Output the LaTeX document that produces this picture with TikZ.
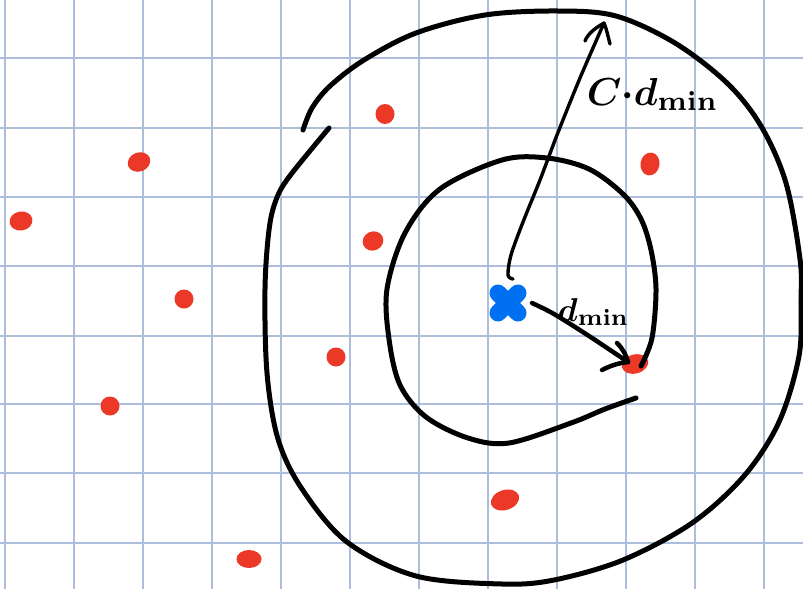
\documentclass[tikz,border=0pt]{standalone}
\usetikzlibrary{shapes.geometric,calc}
\definecolor{gridblue}{RGB}{172,190,220}
\definecolor{dotred}{RGB}{236,56,38}
\definecolor{qblue}{RGB}{0,112,243}
\tikzset{
  reddot/.style={ellipse,fill=dotred,inner sep=0pt,draw=none},
  pen/.style={line width=5pt,line cap=round,line join=round,black},
  thinpen/.style={line width=3.4pt,line cap=round,line join=round,black},
  hand/.style={inner sep=0pt,anchor=base west,font=\boldmath}
}
\begin{document}
\begin{tikzpicture}[x=1pt,y=-1pt]
\useasboundingbox (0,0) rectangle (803,589);
\fill[white] (0,0) rectangle (803,589);
% grid
\foreach \gx in {5,74,143,212,281,350,419,488,557,626,695,764}
  \draw[gridblue,line width=1.6pt] (\gx,0) -- (\gx,589);
\foreach \gy in {58,128,197,266,336,404,473,543}
  \draw[gridblue,line width=1.6pt] (0,\gy) -- (803,\gy);
% red points
\node[reddot,minimum width=23pt,minimum height=19pt,rotate=20] (d1) at (139,162) {};
\node[reddot,minimum width=23pt,minimum height=19pt,rotate=10] (d2) at (21,221) {};
\node[reddot,minimum width=19pt,minimum height=19pt] (d3) at (184,299) {};
\node[reddot,minimum width=19pt,minimum height=19pt] (d4) at (110,406) {};
\node[reddot,minimum width=25pt,minimum height=18pt] (d5) at (249,559) {};
\node[reddot,minimum width=19pt,minimum height=20pt] (d6) at (385,114) {};
\node[reddot,minimum width=21pt,minimum height=19pt,rotate=25] (d7) at (373,241) {};
\node[reddot,minimum width=19pt,minimum height=19pt] (d8) at (336,357) {};
\node[reddot,minimum width=19pt,minimum height=23pt,rotate=-10] (d9) at (650,164) {};
\node[reddot,minimum width=27pt,minimum height=19pt,rotate=15] (d10) at (635,364) {};
\node[reddot,minimum width=29pt,minimum height=20pt,rotate=18] (d11) at (505,500) {};
% query point (blue cross)
\coordinate (q) at (508,303);
\draw[qblue,line width=17pt,line cap=round] ($(q)+(-10,-10)$) -- ($(q)+(10,10)$);
\draw[qblue,line width=17pt,line cap=round] ($(q)+(10,-10)$) -- ($(q)+(-10,10)$);
% outer circle
\draw[pen] plot[smooth,tension=0.55] coordinates {(303,130) (312,108) (330,86) (364,60) (416,33) (485,15) (558,11) (616,16) (675,43) (727,83) (761,126) (786,183) (800,259) (801,300) (799,356) (779,422) (744,476) (692,523) (623,560) (554,580) (502,584) (416,576) (347,542) (302,489) (278,439) (267,373) (265,289) (269,230) (276,200) (289,177) (329,128)};
% inner circle
\draw[pen] plot[smooth,tension=0.55] coordinates {(641,366) (652,338) (656,289) (651,250) (641,219) (623,194) (589,169) (547,158) (502,160) (440,189) (405,233) (387,289) (389,339) (400,385) (426,417) (468,438) (509,443) (571,423) (605,409) (636,398)};
% long arrow  C*d_min
\coordinate (tailC) at (513,279);
\coordinate (tipC) at (604,23);
\draw[thinpen] plot[smooth,tension=0.5] coordinates {(tailC) (508,275) (511,255) (523,222) (540,180) (557,135) (580,78) (tipC)};
\draw[thinpen] (tipC) .. controls (597,27) and (588,33) .. (585,41);
\draw[thinpen] (tipC) .. controls (607,30) and (608,37) .. (610,44);
\node[hand,scale=3.9] (labC) at (586,105) {$C{\cdot}d_{\mathrm{min}}$};
% short arrow d_min
\coordinate (tailD) at (532,303);
\coordinate (tipD) at (628,362);
\draw[pen,line width=4.5pt] plot[smooth,tension=0.5] coordinates {(tailD) (554,314) (589,336) (tipD)};
\draw[pen,line width=4.5pt] (617,343) .. controls (623,349) and (626,355) .. (tipD);
\draw[pen,line width=4.5pt] (602,370) .. controls (610,366) and (618,363) .. (tipD);
\node[hand,scale=3.3] (labD) at (557,321) {$d_{\mathrm{min}}$};
\end{tikzpicture}
\end{document}
